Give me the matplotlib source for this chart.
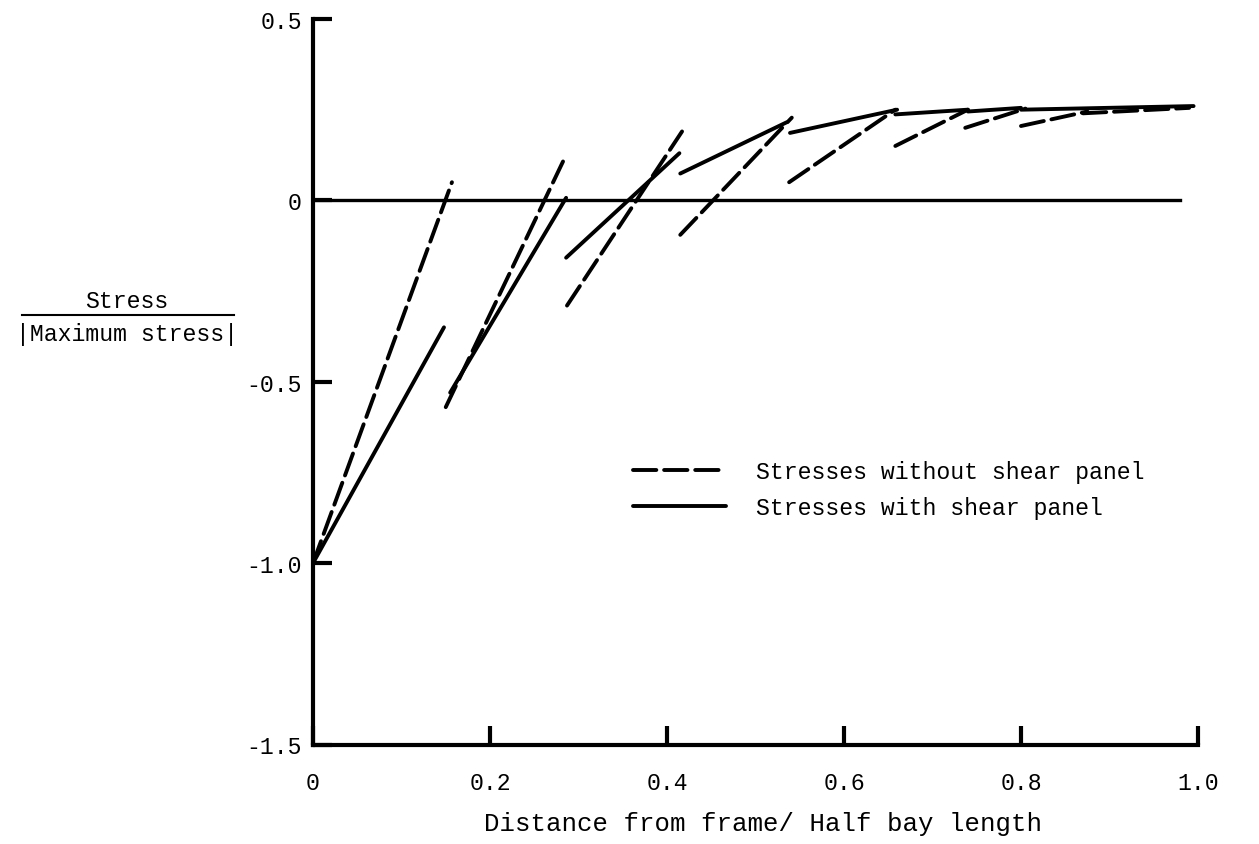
import matplotlib
matplotlib.use("Agg")
import matplotlib.pyplot as plt

plt.rcParams['font.family'] = ['Liberation Mono', 'DejaVu Sans Mono']

# segment end points: (x0, y0, x1, y1)
dashed_x0 = [0.000, 0.150, 0.287, 0.415, 0.538, 0.658, 0.737, 0.800, 0.870]
dashed_y0 = [-1.000, -0.570, -0.290, -0.095, 0.050, 0.150, 0.200, 0.205, 0.240]
dashed_x1 = [0.157, 0.285, 0.417, 0.541, 0.658, 0.740, 0.805, 0.875, 0.990]
dashed_y1 = [0.050, 0.120, 0.190, 0.228, 0.250, 0.250, 0.253, 0.245, 0.255]

solid_x0 = [0.000, 0.155, 0.286, 0.415, 0.539, 0.658, 0.740, 0.800]
solid_y0 = [-1.000, -0.530, -0.158, 0.074, 0.186, 0.237, 0.245, 0.250]
solid_x1 = [0.148, 0.286, 0.414, 0.535, 0.660, 0.740, 0.800, 0.995]
solid_y1 = [-0.350, 0.007, 0.130, 0.215, 0.250, 0.250, 0.255, 0.260]

zero_x = [0.0, 0.98]
zero_y = [0.0, 0.0]

xticks = [0.0, 0.2, 0.4, 0.6, 0.8, 1.0]
xticklabels = ['0', '0.2', '0.4', '0.6', '0.8', '1.0']
yticks = [0.5, 0.0, -0.5, -1.0, -1.5]
yticklabels = ['0.5', '0', '-0.5', '-1.0', '-1.5']

fs = 16.7
lw = 2.8

fig = plt.figure(figsize=(12.59, 8.45), dpi=100)
ax = fig.add_axes([313 / 1259, 99.5 / 845, 885 / 1259, 725.5 / 845])

for i in range(len(dashed_x0)):
    ax.plot([dashed_x0[i], dashed_x1[i]], [dashed_y0[i], dashed_y1[i]],
            color='black', lw=lw, dashes=(6, 2), solid_capstyle='round',
            dash_capstyle='round',
            label='Stresses without shear panel' if i == 0 else None)

for i in range(len(solid_x0)):
    ax.plot([solid_x0[i], solid_x1[i]], [solid_y0[i], solid_y1[i]],
            color='black', lw=lw, solid_capstyle='round',
            label='Stresses with shear panel' if i == 0 else None)

ax.plot(zero_x, zero_y, color='black', lw=2.4)

ax.set_xlim(0, 1.0)
ax.set_ylim(-1.5, 0.5)
ax.spines['top'].set_visible(False)
ax.spines['right'].set_visible(False)
ax.spines['left'].set_linewidth(3)
ax.spines['bottom'].set_linewidth(3)

ax.set_xticks(xticks)
ax.set_xticklabels(xticklabels)
ax.set_yticks(yticks)
ax.set_yticklabels(yticklabels)
ax.tick_params(axis='both', direction='in', length=14, width=3, labelsize=fs)
ax.tick_params(axis='y', pad=8)
ax.tick_params(axis='x', pad=19)

ax.set_xlabel('Distance from frame/ Half bay length', fontsize=18.5, va='center')
ax.xaxis.set_label_coords(0.5 + 8 / 885, (745.5 - 824) / 725.5)

# y label as a fraction
fig.text(127 / 1259, 1 - 302 / 845, 'Stress', fontsize=fs, ha='center', va='center')
fig.text(127 / 1259, 1 - 334 / 845, '|Maximum stress|', fontsize=fs, ha='center', va='center')
fig.add_artist(plt.Line2D([22 / 1259, 234 / 1259], [1 - 316 / 845, 1 - 316 / 845],
                          color='black', lw=1.5))

ax.legend(loc='center left', bbox_to_anchor=(0.3616, 0.3515), frameon=False,
          fontsize=fs, handlelength=4.0, handletextpad=1.3, labelspacing=0.55,
          borderpad=0, borderaxespad=0)

fig.savefig('out.png', dpi=100)
